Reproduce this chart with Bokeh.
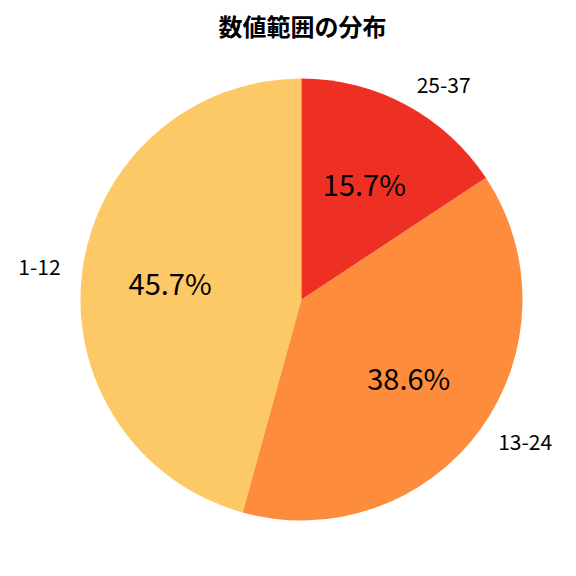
import numpy as np
from bokeh.plotting import figure
from bokeh.models import ColumnDataSource
from bokeh.core.properties import value
from bokeh.embed import file_html
from bokeh.resources import INLINE

# data
ranges = ["1-12", "13-24", "25-37"]
counts = [32, 27, 11]
colors = ["#fdc966", "#fd8c3c", "#ee3024"]

FONT = "Noto Sans CJK JP"

total = sum(counts)
frac = np.array(counts) / total
ang = frac * 2 * np.pi
start = np.pi / 2 + np.concatenate([[0], np.cumsum(ang)[:-1]])
end = start + ang
mid = (start + end) / 2

src = ColumnDataSource(dict(
    rng=ranges, start=start, end=end, color=colors,
    pct=[f"{f * 100:.1f}%" for f in frac],
    px=0.6 * np.cos(mid), py=0.6 * np.sin(mid),
    lx=1.1 * np.cos(mid), ly=1.1 * np.sin(mid),
    align=["left" if c > 0 else "right" for c in np.cos(mid)],
))

W = H = 568
CX, CY = 301, 299
R = 221.0
p = figure(width=W, height=H, output_backend="svg", toolbar_location=None,
           x_range=(-CX / R, (W - CX) / R), y_range=(-(H - CY) / R, CY / R),
           min_border=0, outline_line_color=None)
p.axis.visible = False
p.grid.visible = False

p.wedge(x=0, y=0, radius=1, start_angle="start", end_angle="end",
        fill_color="color", line_color=None, source=src)

p.text(x="px", y="py", text="pct", text_font=value(FONT), text_font_size="29px",
       text_align="center", text_baseline="middle", text_color="black", source=src)
p.text(x="lx", y="ly", text="rng", text_font=value(FONT), text_font_size="21px",
       text_align="align", text_baseline="middle", text_color="black", source=src)

p.text(x=[(302 - CX) / R], y=[(CY - 25) / R], text=["数値範囲の分布"],
       text_font=value(FONT), text_font_size="24px", text_font_style="bold",
       text_align="center", text_baseline="middle", text_color="black")

open("out.html", "w").write(file_html(p, INLINE))
